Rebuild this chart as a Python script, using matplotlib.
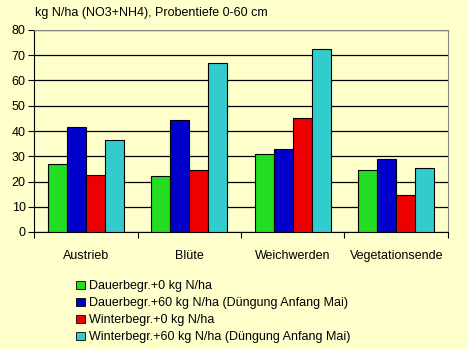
import numpy as np
import matplotlib.pyplot as plt
from matplotlib.patches import Patch

plt.rcParams['font.family'] = ['Liberation Sans', 'DejaVu Sans']

# data
stages = ["Austrieb", "Blüte", "Weichwerden", "Vegetationsende"]
series_names = [
    "Dauerbegr.+0 kg N/ha",
    "Dauerbegr.+60 kg N/ha (Düngung Anfang Mai)",
    "Winterbegr.+0 kg N/ha",
    "Winterbegr.+60 kg N/ha (Düngung Anfang Mai)",
]
dauer_0 = [27, 22, 31, 24.5]
dauer_60 = [41.5, 44.5, 33, 29]
winter_0 = [22.5, 24.5, 45, 14.5]
winter_60 = [36.5, 67, 72.5, 25.5]
colors = ["#22DD22", "#0000CC", "#EE0000", "#33CCCC"]

bg = "#FFFFCC"
fig = plt.figure(figsize=(4.68, 3.49), dpi=100, facecolor=bg)
ax = fig.add_axes([34 / 468, 1 - 232 / 349, (448 - 34) / 468, (232 - 30) / 349])
ax.set_facecolor(bg)

x = np.arange(len(stages))
w = 0.183
all_series = [dauer_0, dauer_60, winter_0, winter_60]
for i, vals in enumerate(all_series):
    ax.bar(x + (i - 1.5) * w, vals, width=w, color=colors[i],
           edgecolor="black", linewidth=0.8, zorder=3)

ax.set_xlim(-0.5, len(stages) - 0.5)
ax.set_ylim(0, 80)
ax.set_yticks(range(0, 81, 10))
ax.yaxis.grid(True, color="black", linewidth=0.9, zorder=0)
ax.set_axisbelow(True)

ax.set_xticks(x)
ax.set_xticklabels(stages, fontsize=9)
ax.set_xticks(np.arange(-0.5, len(stages)), minor=True)
ax.tick_params(axis="x", which="major", length=0, pad=13)
ax.tick_params(axis="x", which="minor", length=4, width=0.8, direction="out")
ax.tick_params(axis="y", labelsize=9, length=4, width=0.8, pad=2)

for s in ["top", "right"]:
    ax.spines[s].set_color("#888888")
    ax.spines[s].set_linewidth(0.8)
for s in ["left", "bottom"]:
    ax.spines[s].set_color("black")
    ax.spines[s].set_linewidth(0.8)

fig.text(35 / 468, 1 - 13 / 349, "kg N/ha (NO3+NH4), Probentiefe 0-60 cm",
         fontsize=9, va="center", ha="left")

handles = [Patch(facecolor=c, edgecolor="black", linewidth=0.6) for c in colors]
fig.legend(handles, series_names, loc="upper left",
           bbox_to_anchor=(70 / 468, 1 - 274 / 349), frameon=False,
           fontsize=9, handlelength=0.7, handleheight=0.7,
           handletextpad=0.3, labelspacing=0.4, borderpad=0)

fig.savefig("out.png", dpi=100, facecolor=bg)
